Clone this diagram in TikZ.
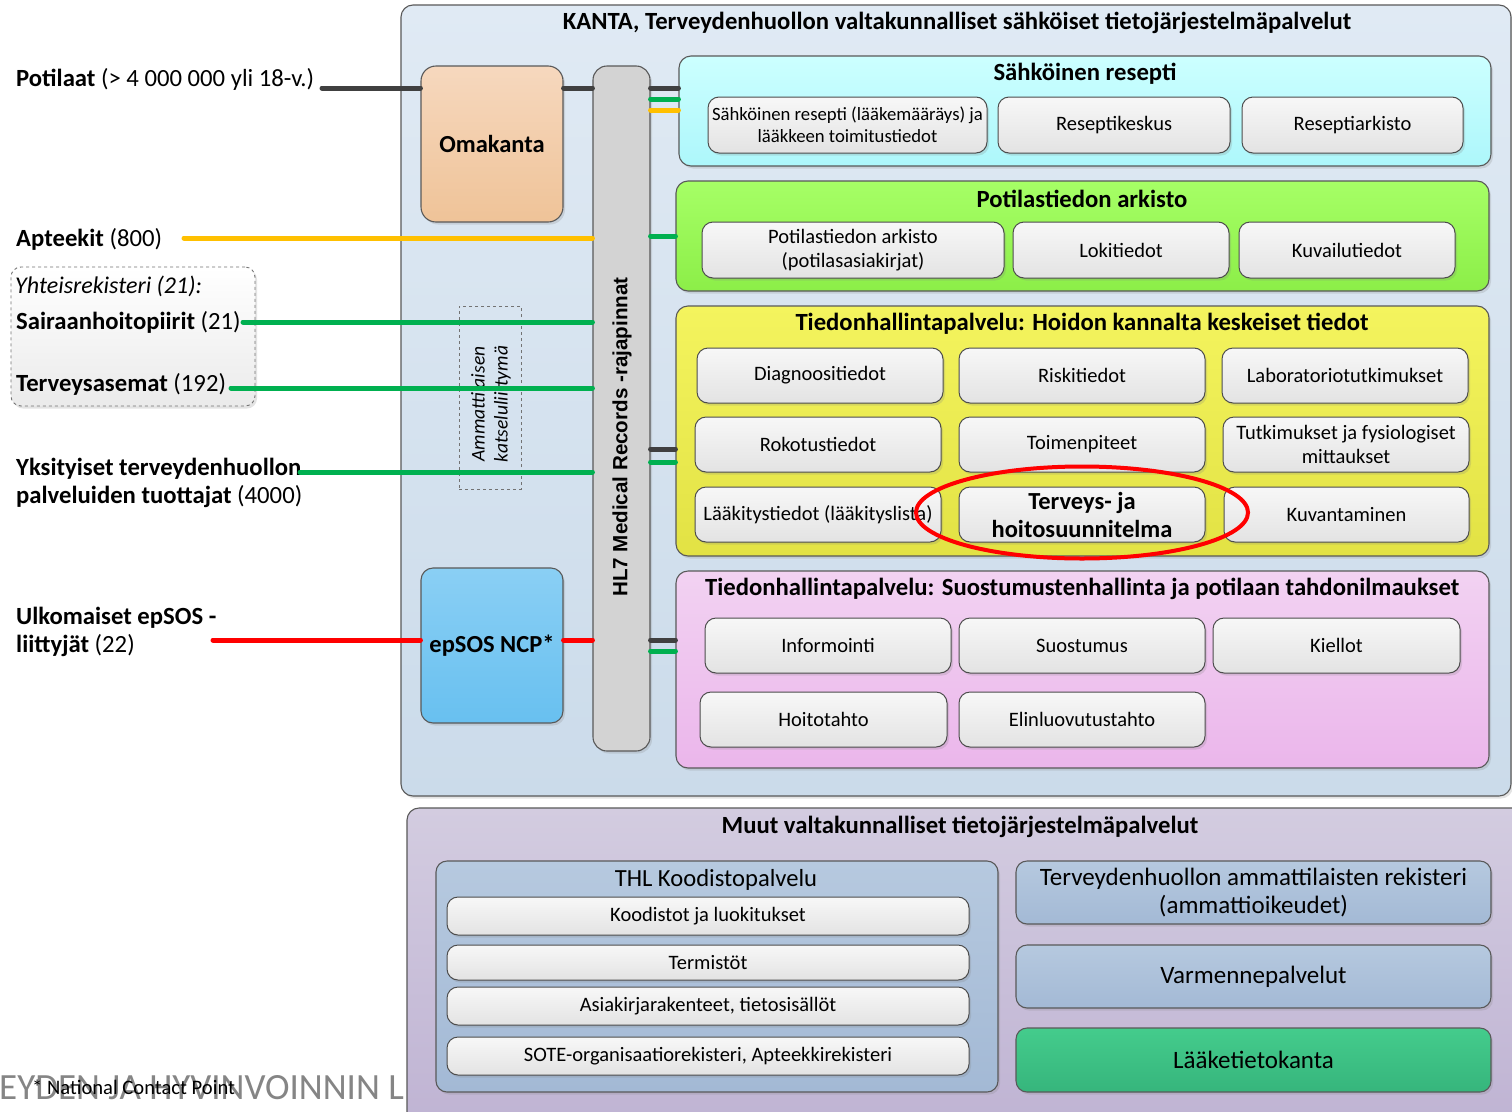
\documentclass[tikz,border=0pt]{standalone}
\usepackage{fontspec}
\setmainfont{Carlito}
\newfontfamily\arialf{Liberation Sans}
\usetikzlibrary{shadows}
\newcommand\fsz[2]{\fontsize{#1}{#2}\selectfont}
\newcommand\bx[7]{\node[#6, minimum width={(#4)-(#2)}, minimum height={(#5)-(#3)}] (#1) at ({((#2)+(#4))/2},{((#3)+(#5))/2}) {#7};}
\definecolor{kantaT}{HTML}{E0EAF4}
\definecolor{kantaB}{HTML}{CBDBEA}
\definecolor{omaT}{HTML}{F6D8BE}
\definecolor{omaB}{HTML}{EFC398}
\definecolor{hlc}{HTML}{D3D3D3}
\definecolor{epT}{HTML}{8ACFF4}
\definecolor{epB}{HTML}{68C0F0}
\definecolor{srT}{HTML}{CCFFFF}
\definecolor{srB}{HTML}{ADF7FB}
\definecolor{paT}{HTML}{A6FF66}
\definecolor{paB}{HTML}{8CEE48}
\definecolor{thT}{HTML}{F4F45E}
\definecolor{thB}{HTML}{E2E244}
\definecolor{suT}{HTML}{F2D2F2}
\definecolor{suB}{HTML}{EBB6EB}
\definecolor{muT}{HTML}{D3CCE0}
\definecolor{muB}{HTML}{BFB3D3}
\definecolor{blT}{HTML}{B6C9DF}
\definecolor{blB}{HTML}{A3B9D5}
\definecolor{ltT}{HTML}{44CC8C}
\definecolor{ltB}{HTML}{36B57C}
\definecolor{darkc}{HTML}{404040}
\definecolor{greenc}{HTML}{00B050}
\definecolor{yellowc}{HTML}{FFC000}
\definecolor{redc}{HTML}{FF0000}
\definecolor{wmc}{HTML}{858585}
\begin{document}
\begin{tikzpicture}[x=1pt,y=-1pt,
 shd/.style={drop shadow={shadow xshift=2pt, shadow yshift=-2.5pt, opacity=0.22}},
 grp/.style={draw=black!65, line width=1.1pt, rounded corners=12pt, shd},
 ibox/.style={draw=black!70, line width=1pt, rounded corners=11pt, top color=white!97!black, bottom color=black!11, shd, align=center, inner sep=1pt, font=\fsz{20.5}{24}},
 gtitle/.style={font=\bfseries\fsz{24.7}{28}, inner sep=0pt},
 lbl/.style={anchor=west, inner sep=0pt, font=\fsz{24.7}{28}, align=left},
 conn/.style={line width=5pt, line cap=round},
 dk/.style={conn, draw=darkc}, gr/.style={conn, draw=greenc},
 ye/.style={conn, draw=yellowc}, rd/.style={conn, draw=redc}]
\useasboundingbox (0,0) rectangle (1512,1111);
\clip (0,0) rectangle (1512,1111);
\fill[white] (0,0) rectangle (1512,1111);

% watermark and footnote
\node[anchor=base west, inner sep=0pt, font=\fsz{37}{40}, text=wmc] (wm) at (-1,1099) {EYDEN JA HYVINVOINNIN L};
\node[anchor=west, inner sep=0pt, font=\fsz{20.6}{24}] (ncp) at (32,1087) {* National Contact Point};

% KANTA outer
\bx{kanta}{401}{5}{1511}{796}{grp, top color=kantaT, bottom color=kantaB}{}
\node[gtitle] (kantat) at (957,23) {KANTA, Terveydenhuollon valtakunnalliset sähköiset tietojärjestelmäpalvelut};

\bx{oma}{421}{66}{563}{222}{grp, rounded corners=15pt, top color=omaT, bottom color=omaB, font=\bfseries\fsz{24.5}{28}}{Omakanta}
\bx{hl7}{593}{66}{650}{751}{grp, rounded corners=14pt, fill=hlc}{}
\node[rotate=90, inner sep=0pt, font=\arialf\bfseries\fsz{20.6}{24}] (hl7t) at (622,437) {HL7 Medical Records -rajapinnat};
\bx{ep}{421}{568}{563}{723}{grp, rounded corners=12pt, top color=epT, bottom color=epB, font=\bfseries\fsz{24.5}{28}}{epSOS NCP*}
\bx{amm}{459}{306}{521}{489}{draw=black!55, dashed, line width=1pt}{}
\node[rotate=90, inner sep=0pt, align=center, font=\itshape\fsz{19.5}{23}] (ammt) at (491,404) {Ammattilaisen\\katseluliittymä};

% Sähköinen resepti
\bx{sr}{679}{56}{1491}{166}{grp, top color=srT, bottom color=srB}{}
\node[gtitle] (srt) at (1085,74) {Sähköinen resepti};
\bx{sr1}{708}{97}{987}{153}{ibox, font=\fsz{18.7}{22}}{Sähköinen resepti (lääkemääräys) ja\\lääkkeen toimitustiedot}
\bx{sr2}{998}{97}{1230}{153}{ibox}{Reseptikeskus}
\bx{sr3}{1242}{97}{1463}{153}{ibox}{Reseptiarkisto}

% Potilastiedon arkisto
\bx{pa}{676}{181}{1489}{291}{grp, top color=paT, bottom color=paB}{}
\node[gtitle] (pat) at (1082,199) {Potilastiedon arkisto};
\bx{pa1}{702}{222}{1004}{278}{ibox}{Potilastiedon arkisto\\(potilasasiakirjat)}
\bx{pa2}{1013}{222}{1229}{278}{ibox}{Lokitiedot}
\bx{pa3}{1239}{222}{1455}{278}{ibox}{Kuvailutiedot}

% Hoidon kannalta keskeiset tiedot
\bx{th}{676}{306}{1489}{556}{grp, top color=thT, bottom color=thB}{}
\node[gtitle] (tht) at (1082,324) {Tiedonhallintapalvelu: Hoidon kannalta keskeiset tiedot};
\bx{th1}{697}{348}{943}{403}{ibox}{Diagnoositiedot}
\bx{th2}{959}{348}{1205}{403}{ibox}{Riskitiedot}
\bx{th3}{1222}{348}{1468}{403}{ibox}{Laboratoriotutkimukset}
\bx{th4}{695}{417}{941}{472}{ibox}{Rokotustiedot}
\bx{th5}{959}{417}{1205}{472}{ibox}{Toimenpiteet}
\bx{th6}{1223}{417}{1469}{472}{ibox}{Tutkimukset ja fysiologiset\\mittaukset}
\bx{th7}{695}{487}{941}{542}{ibox}{Lääkitystiedot (lääkityslista)}
\bx{th8}{959}{487}{1205}{542}{ibox, font=\bfseries\fsz{24.5}{28}}{Terveys- ja\\hoitosuunnitelma}
\bx{th9}{1224}{487}{1469}{542}{ibox}{Kuvantaminen}
\draw[redc, line width=4pt] (th8.center) ++(0,-2) ellipse [x radius=166pt, y radius=46pt];

% Suostumustenhallinta
\bx{su}{676}{571}{1489}{768}{grp, top color=suT, bottom color=suB}{}
\node[gtitle] (sut) at (1082,589) {Tiedonhallintapalvelu: Suostumustenhallinta ja potilaan tahdonilmaukset};
\bx{su1}{705}{618}{951}{673}{ibox}{Informointi}
\bx{su2}{959}{618}{1205}{673}{ibox}{Suostumus}
\bx{su3}{1213}{618}{1460}{673}{ibox}{Kiellot}
\bx{su4}{700}{692}{947}{747}{ibox}{Hoitotahto}
\bx{su5}{959}{692}{1205}{747}{ibox}{Elinluovutustahto}

% Muut
\bx{mu}{407}{808}{1530}{1130}{grp, top color=muT, bottom color=muB}{}
\node[gtitle] (mut) at (960,827) {Muut valtakunnalliset tietojärjestelmäpalvelut};
\bx{thl}{436}{861}{998}{1092}{grp, rounded corners=11pt, top color=blT, bottom color=blB}{}
\node[inner sep=0pt, font=\fsz{24.6}{28}] (thlt) at (716,880) {THL Koodistopalvelu};
\bx{k1}{447}{897}{969}{935}{ibox}{Koodistot ja luokitukset}
\bx{k2}{447}{945}{969}{980}{ibox}{Termistöt}
\bx{k3}{447}{987}{969}{1025}{ibox}{Asiakirjarakenteet, tietosisällöt}
\bx{k4}{447}{1037}{969}{1075}{ibox}{SOTE-organisaatiorekisteri, Apteekkirekisteri}
\bx{tr}{1016}{861}{1491}{924}{grp, rounded corners=11pt, top color=blT, bottom color=blB, align=center, font=\fsz{25}{28}}{Terveydenhuollon ammattilaisten rekisteri\\(ammattioikeudet)}
\bx{va}{1016}{945}{1491}{1008}{grp, rounded corners=11pt, top color=blT, bottom color=blB, font=\fsz{25}{28}}{Varmennepalvelut}
\bx{lt}{1016}{1028}{1491}{1092}{grp, rounded corners=11pt, top color=ltT, bottom color=ltB, font=\fsz{25}{28}}{Lääketietokanta}

% left labels
\node[lbl] (pot) at (16,79) {\textbf{Potilaat} (> 4 000 000 yli 18-v.)};
\node[lbl] (apt) at (16,239) {\textbf{Apteekit} (800)};
\bx{yr}{11}{267}{255}{406}{draw=black!55, dashed, line width=0.9pt, rounded corners=10pt, top color=white, bottom color=black!8, shd}{}
\node[lbl, font=\itshape\fsz{24}{28}] (yrt) at (15,286) {Yhteisrekisteri (21):};
\node[lbl] (sai) at (16,322) {\textbf{Sairaanhoitopiirit} (21)};
\node[lbl] (ter) at (16,384) {\textbf{Terveysasemat} (192)};
\node[lbl] (yks) at (16,483) {\textbf{Yksityiset terveydenhuollon}\\\textbf{palveluiden tuottajat} (4000)};
\node[lbl] (ulk) at (16,632) {\textbf{Ulkomaiset epSOS -}\\\textbf{liittyjät} (22)};

% connectors
\coordinate (potE) at (322,88);
\coordinate (aptE) at (184,238);
\coordinate (saiE) at (243,322);
\coordinate (terE) at (231,388);
\coordinate (yksE) at (300,472);
\coordinate (ulkE) at (213,640);
\draw[dk] (potE) -- (potE -| oma.west);
\draw[dk] (oma.east |- potE) -- (hl7.west |- potE);
\draw[dk] (hl7.east |- potE) -- (sr.west |- potE);
\draw[gr] (hl7.east |- 0,99) -- (sr.west |- 0,99);
\draw[ye] (hl7.east |- 0,110) -- (sr.west |- 0,110);
\draw[ye] (aptE) -- (aptE -| hl7.west);
\draw[gr] (hl7.east |- 0,236) -- (pa.west |- 0,236);
\draw[gr] (saiE) -- (saiE -| hl7.west);
\draw[gr] (terE) -- (terE -| hl7.west);
\draw[gr] (yksE) -- (yksE -| hl7.west);
\draw[dk] (hl7.east |- 0,449) -- (th.west |- 0,449);
\draw[gr] (hl7.east |- 0,462) -- (th.west |- 0,462);
\draw[rd] (ulkE) -- (ulkE -| ep.west);
\draw[rd] (ep.east |- ulkE) -- (hl7.west |- ulkE);
\draw[dk] (hl7.east |- 0,640) -- (su.west |- 0,640);
\draw[gr] (hl7.east |- 0,651) -- (su.west |- 0,651);
\end{tikzpicture}
\end{document}
